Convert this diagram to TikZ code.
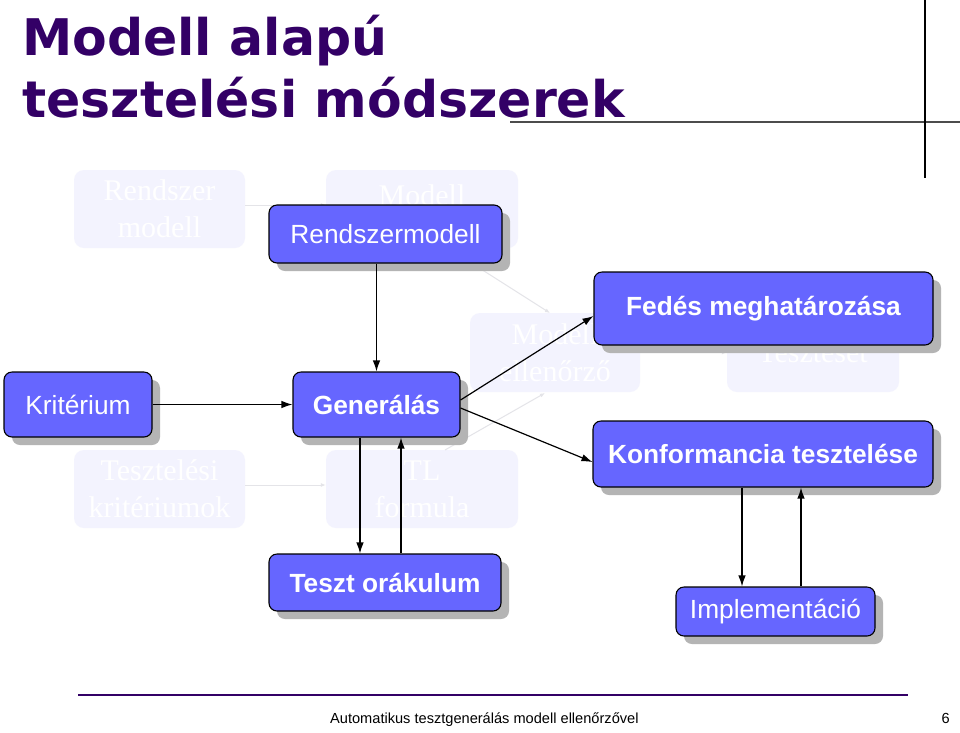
\documentclass[tikz,border=0pt]{standalone}
\usepackage{fontspec}
\setmainfont{Liberation Sans}
\newfontfamily\titlefont{DejaVu Sans}
\newfontfamily\fadefont{Liberation Serif}
\usetikzlibrary{arrows.meta,shadows}
\definecolor{boxblue}{RGB}{102,102,255}
\definecolor{titlepurple}{RGB}{51,0,102}
\definecolor{fadefill}{RGB}{243,243,254}
\definecolor{fadeline}{RGB}{228,228,232}
\definecolor{shadowgray}{RGB}{180,180,180}
\tikzset{
  mainbox/.style={draw=black, line width=1.1pt, fill=boxblue, rounded corners=8pt,
    text=white, inner sep=0pt,
    drop shadow={shadow xshift=8pt, shadow yshift=-8pt, fill=shadowgray, opacity=1}},
  regtext/.style={font=\fontsize{26.3}{30}\selectfont},
  boldtext/.style={font=\fontsize{26.3}{30}\selectfont\bfseries},
  fadebox/.style={fill=fadefill, rounded corners=10pt, inner sep=0pt,
    text=white, align=center, font=\fadefont\fontsize{30}{37}\selectfont},
  fadearr/.style={draw=fadeline, line width=1pt, -{Latex[length=5pt,width=4pt]}},
  arr/.style={draw=black, line width=1.2pt, -{Latex[length=11pt,width=7.5pt]}}
}
\begin{document}
\begin{tikzpicture}[x=1pt,y=-1pt]
\useasboundingbox (0,0) rectangle (960,732);
\fill[white] (0,0) rectangle (960,732);

% title
\node[anchor=base west, inner sep=0pt, text=titlepurple, font=\titlefont\bfseries\fontsize{50.5}{60}\selectfont] (t1) at (22,55) {Modell alapú};
\node[anchor=base west, inner sep=0pt, text=titlepurple, font=\titlefont\bfseries\fontsize{50.5}{60}\selectfont] (t2) at (22,117) {tesztelési módszerek};
\coordinate (hl1) at (510,122);
\coordinate (hl2) at (960,122);
\draw[line width=1.6pt, draw=black!70] (hl1) -- (hl2);
\coordinate (vl1) at (925,0);
\coordinate (vl2) at (925,178);
\draw[line width=1.4pt] (vl1) -- (vl2);

% faded background diagram
\node[fadebox, minimum width=171pt, minimum height=78pt] (frsz) at (159.5,209) {Rendszer\\modell};
\node[fadebox, minimum width=192pt, minimum height=78pt] (fmod) at (422,209) {};
\node[anchor=base, inner sep=0pt, text=white, font=\fadefont\fontsize{30}{37}\selectfont] (fmodt) at (422,205) {Modell};
\node[fadebox, minimum width=170pt, minimum height=79pt] (fell) at (555,352.5) {Modell\\ellenőrző};
\node[fadebox, minimum width=172pt, minimum height=79pt] (ftsz) at (813,352.5) {Teszteset};
\node[fadebox, minimum width=171pt, minimum height=78pt] (ftk) at (159.5,489) {Tesztelési\\kritériumok};
\node[fadebox, minimum width=192pt, minimum height=78pt] (ftl) at (422,489) {TL\\formula};
\draw[fadearr] (frsz.east |- 0,205) -- (fmod.west |- 0,205);
\draw[fadearr] (ftk.east |- 0,485) -- (ftl.west |- 0,485);
\draw[fadearr] (fmod.south east) ++(-70,0) -- (550,313);
\draw[fadearr] (445,450) -- (545,393);
\draw[fadearr] (fell.east) -- (ftsz.west);

% main diagram
\node[mainbox, regtext, minimum width=233pt, minimum height=58pt] (rsm) at (385.5,234) {Rendszermodell};
\node[mainbox, boldtext, minimum width=339pt, minimum height=73pt] (fed) at (763.5,308.5) {Fedés meghatározása};
\node[mainbox, regtext, minimum width=148pt, minimum height=65pt] (krit) at (78,404.5) {Kritérium};
\node[mainbox, boldtext, minimum width=167pt, minimum height=65pt] (gen) at (376.5,404.5) {Generálás};
\node[mainbox, boldtext, minimum width=340pt, minimum height=66pt] (konf) at (763,454) {Konformancia tesztelése};
\node[mainbox, boldtext, minimum width=232pt, minimum height=57pt] (orak) at (385,582.5) {Teszt orákulum};
\node[mainbox, regtext, minimum width=199pt, minimum height=49pt] (impl) at (775.5,611.5) {Implementáció};

\draw[arr] (rsm.south -| gen.north) -- (gen.north);
\draw[arr] (krit.east) -- (gen.west);
\draw[arr] ([yshift=4.5pt]gen.east) -- ([yshift=-7.5pt]fed.west);
\draw[arr] ([yshift=-3.5pt]gen.east) -- ([yshift=-8pt]konf.west);
\draw[arr] ([xshift=-16.5pt]gen.south) -- ([xshift=-16.5pt]gen.south |- orak.north);
\draw[arr] ([xshift=24.5pt]gen.south |- orak.north) -- ([xshift=24.5pt]gen.south);
\draw[arr] ([xshift=-21pt]konf.south) -- ([xshift=-21pt]konf.south |- impl.north);
\draw[arr] ([xshift=38pt]konf.south |- impl.north) -- ([xshift=38pt]konf.south);

% footer
\coordinate (fl1) at (78,695);
\coordinate (fl2) at (908,695);
\draw[line width=2.5pt, draw=titlepurple] (fl1) -- (fl2);
\node[anchor=base west, inner sep=0pt, font=\fontsize{14.6}{17}\selectfont] (foot) at (330,723) {Automatikus tesztgenerálás modell ellenőrzővel};
\node[anchor=base east, inner sep=0pt, font=\fontsize{14.6}{17}\selectfont] (page) at (950,723) {6};
\end{tikzpicture}
\end{document}
